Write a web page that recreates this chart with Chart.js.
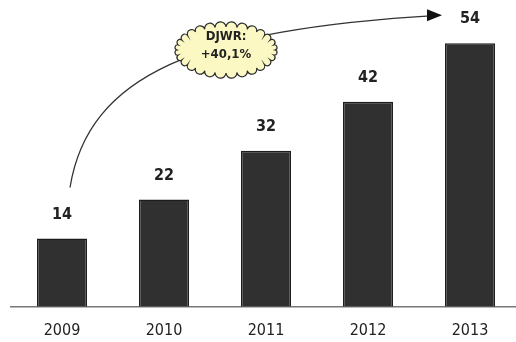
<!DOCTYPE html>
<html lang="de">
<head>
  <meta charset="UTF-8" />
  <title>DJWR Chart</title>
  <script src="https://cdn.jsdelivr.net/npm/chart.js"></script>
  <style>
    html, body { margin: 0; padding: 0; background: #fff; overflow: hidden; }
    .wrap { width: 524px; height: 357px; position: relative; }
  </style>
</head>
<body>
  <div class="wrap"><canvas id="chart"></canvas></div>
  <script>
    const years = ["2009", "2010", "2011", "2012", "2013"];
    const values = [14, 22, 32, 42, 54];
    const cagrLines = ["DJWR:", "+40,1%"];

    // value labels above each bar
    const valueLabels = {
      id: 'valueLabels',
      afterDatasetsDraw(chart) {
        const ctx = chart.ctx;
        const meta = chart.getDatasetMeta(0);
        ctx.save();
        ctx.font = 'bold 16px "DejaVu Sans Condensed", "DejaVu Sans", sans-serif';
        ctx.fillStyle = '#222';
        ctx.textAlign = 'center';
        ctx.textBaseline = 'middle';
        meta.data.forEach((bar, i) => {
          ctx.fillText(values[i], bar.x, bar.y - 24);
        });
        ctx.restore();
      }
    };

    // growth arrow + cloud
    const growthArrow = {
      id: 'growthArrow',
      afterDraw(chart) {
        const ctx = chart.ctx;
        const x = chart.scales.x, y = chart.scales.y;
        const x0 = x.getPixelForValue(0) + 8, y0 = y.getPixelForValue(values[0]) - 51;
        const x3 = x.getPixelForValue(4) - 28, y3 = y.getPixelForValue(values[4]) - 28;
        ctx.save();
        ctx.strokeStyle = '#333';
        ctx.lineWidth = 1.3;
        ctx.beginPath();
        ctx.moveTo(x0, y0);
        ctx.bezierCurveTo(x0 + 18, y0 - 112, x0 + 125, y3 + 14, x3 - 4, y3);
        ctx.stroke();
        // arrow head
        ctx.fillStyle = '#111';
        ctx.beginPath();
        ctx.moveTo(x3, y3);
        ctx.lineTo(x3 - 15, y3 - 6);
        ctx.lineTo(x3 - 15, y3 + 6);
        ctx.closePath();
        ctx.fill();

        // cloud
        const cx = 226, cy = 50, a = 49, b = 23, n = 28;
        const pts = [];
        for (let i = 0; i < n; i++) {
          const t = i / n * Math.PI * 2;
          pts.push([cx + a * Math.cos(t), cy + b * Math.sin(t)]);
        }
        ctx.beginPath();
        for (let i = 0; i < n; i++) {
          const p = pts[i], q = pts[(i + 1) % n];
          const mx = (p[0] + q[0]) / 2, my = (p[1] + q[1]) / 2;
          const r = Math.hypot(q[0] - p[0], q[1] - p[1]) / 2;
          const a1 = Math.atan2(p[1] - my, p[0] - mx);
          ctx.arc(mx, my, r, a1, a1 + Math.PI);
        }
        ctx.closePath();
        ctx.fillStyle = '#fbf8c4';
        ctx.fill();
        ctx.strokeStyle = '#2a2a2a';
        ctx.lineWidth = 1.2;
        ctx.stroke();

        ctx.fillStyle = '#222';
        ctx.font = 'bold 13px "DejaVu Sans Condensed", "DejaVu Sans", sans-serif';
        ctx.textAlign = 'center';
        ctx.textBaseline = 'middle';
        ctx.fillText(cagrLines[0], cx, cy - 13);
        ctx.fillText(cagrLines[1], cx, cy + 5);
        ctx.restore();
      }
    };

    new Chart(document.getElementById('chart'), {
      type: 'bar',
      data: {
        labels: years,
        datasets: [{
          data: values,
          backgroundColor: '#303030',
          borderColor: '#1c1c1c',
          borderWidth: 1.5,
          barPercentage: 0.49,
          categoryPercentage: 1
        }]
      },
      options: {
        responsive: true,
        maintainAspectRatio: false,
        animation: false,
        layout: { padding: { left: 11, right: 3, top: 14, bottom: 3 } },
        plugins: { legend: { display: false }, tooltip: { enabled: false } },
        scales: {
          x: {
            grid: { display: false, drawTicks: false },
            border: { display: true, color: '#777', width: 1.5 },
            ticks: {
              padding: 14,
              color: '#222',
              font: { family: '"DejaVu Sans Condensed", "DejaVu Sans", sans-serif', size: 16 }
            }
          },
          y: { display: false, min: 0, max: 60 }
        }
      },
      plugins: [valueLabels, growthArrow]
    });
  </script>
</body>
</html>
